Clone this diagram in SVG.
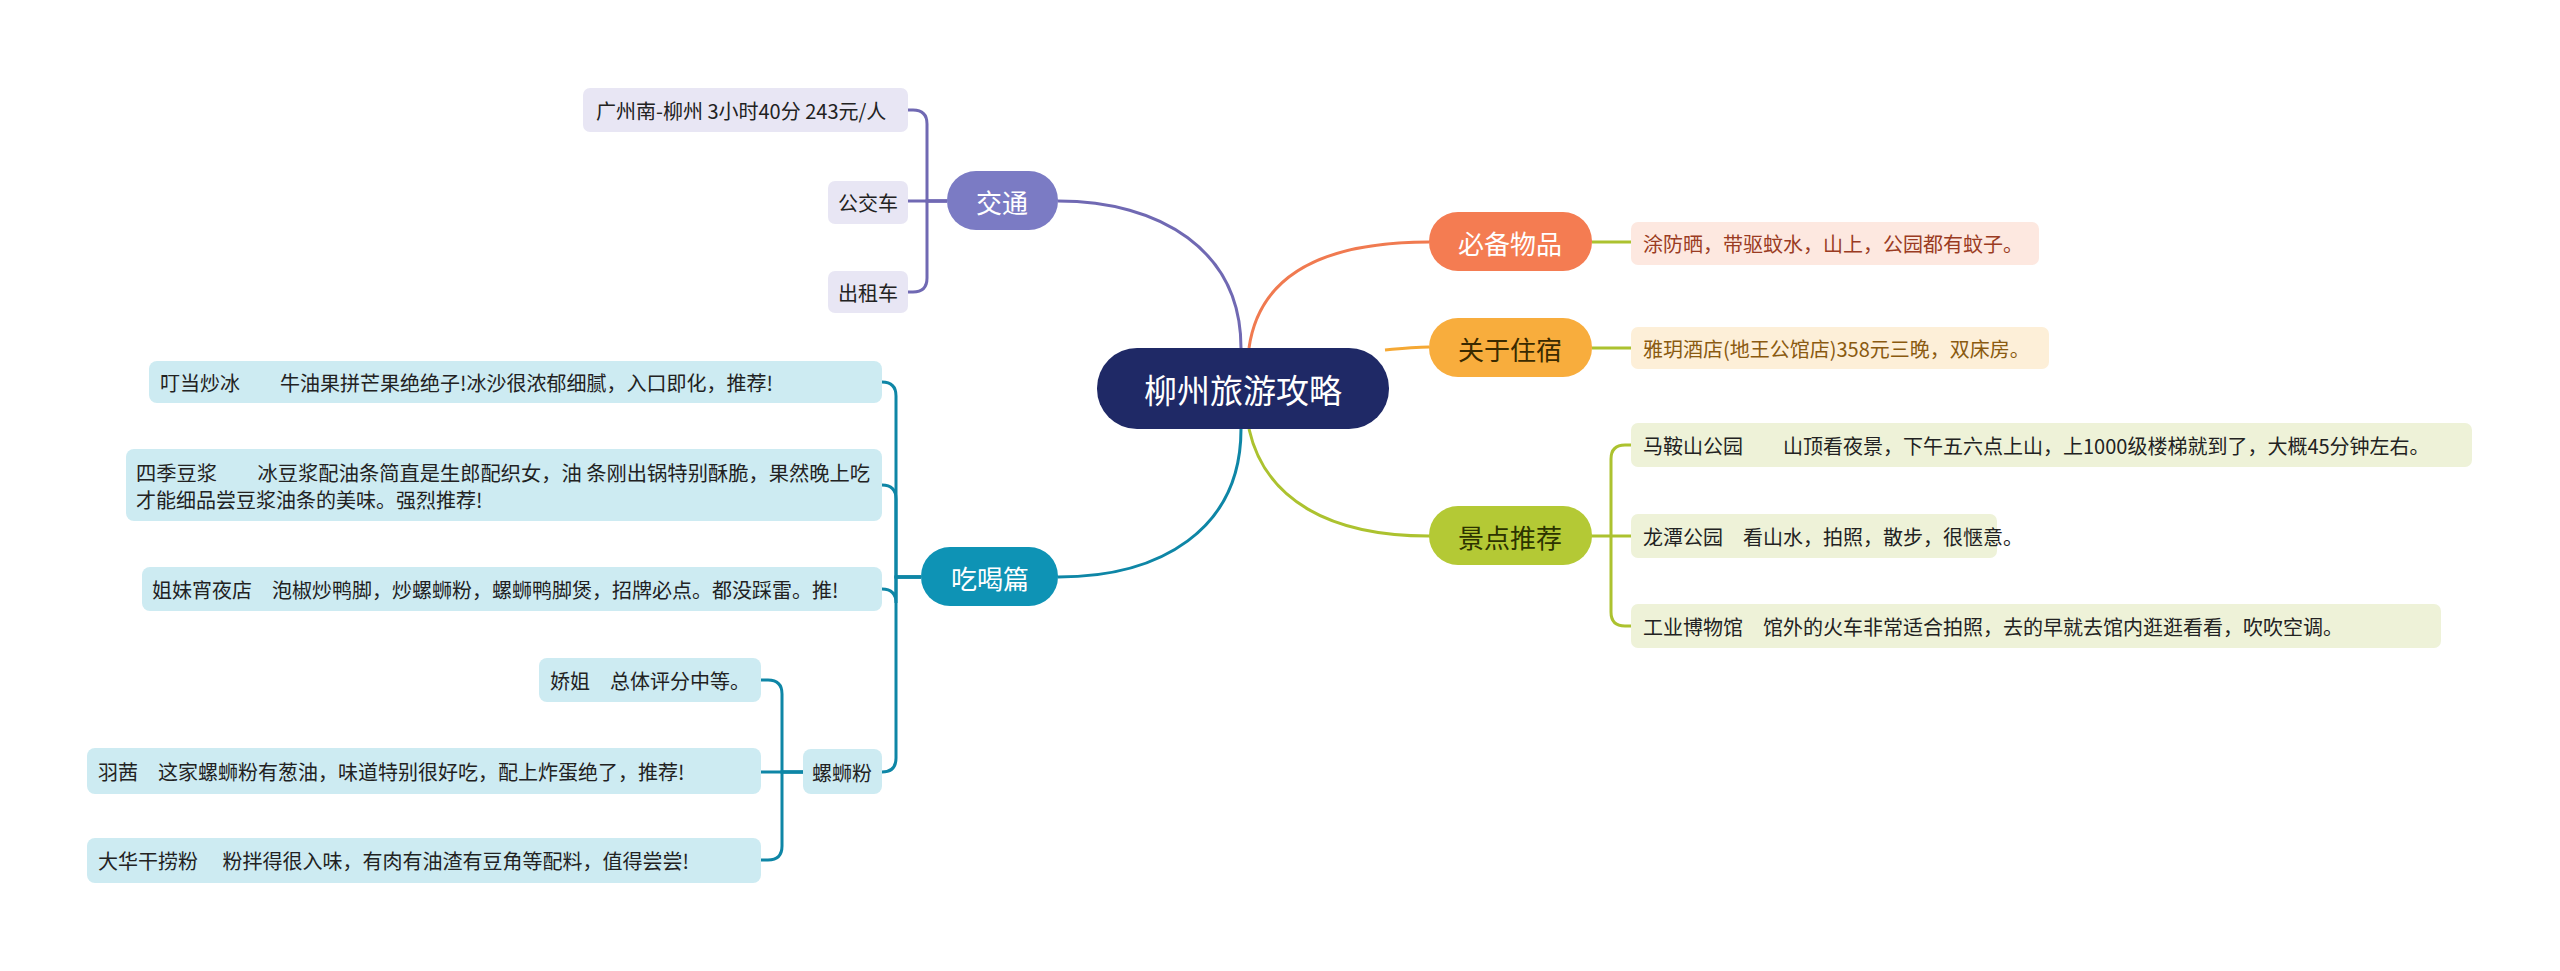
<svg xmlns="http://www.w3.org/2000/svg" width="2560" height="971" viewBox="0 0 2560 971">
<style>
text{font-family:"Noto Sans CJK SC","Liberation Sans",sans-serif;dominant-baseline:central}
.lf{font-size:20px;fill:#222}
.br{font-size:26px;fill:#fff;text-anchor:middle}
.c{fill:none;stroke-width:3}
</style>
<rect width="2560" height="971" fill="#fff"/>
<g id="connectors">
<path class="c" stroke="#7069b3" d="M1241 348 C1241 250 1160 201 1058 201"/>
<path class="c" stroke="#0e86a6" d="M1241 429 C1241 530 1160 577 1058 577"/>
<path class="c" stroke="#f07a50" d="M1249 348 C1260 270 1330 242 1429 242"/>
<path class="c" stroke="#f5a834" d="M1385 350 C1405 348 1415 347 1429 347"/>
<path class="c" stroke="#acc22f" d="M1249 429 C1265 500 1330 536 1429 536"/>
<g stroke="#7069b3" class="c" fill="none">
<path d="M947 201 H927 V124 Q927 110 913 110 H908"/>
<path d="M947 201 H908"/>
<path d="M947 201 H927 V278 Q927 292 913 292 H908"/>
</g>
<g stroke="#0e86a6" fill="none" stroke-width="3">
<path d="M921 577 H896 V396 Q896 382 882 382"/>
<path d="M921 577 H896 V499 Q896 485 882 485"/>
<path d="M921 577 H896 V603 Q896 589 882 589"/>
<path d="M921 577 H896 V758 Q896 772 882 772"/>
<path d="M803 772 H782 V694 Q782 680 768 680 H761"/>
<path d="M803 772 H761"/>
<path d="M803 772 H782 V846 Q782 860 768 860 H761"/>
</g>
<g stroke="#acc22f" fill="none" stroke-width="3">
<path d="M1429 536 H1611 "/>
<path d="M1611 536 V459 Q1611 445 1625 445 H1631"/>
<path d="M1611 536 H1631"/>
<path d="M1611 536 V612 Q1611 626 1625 626 H1631"/>
<path d="M1592 242 H1631"/>
<path d="M1592 348 H1631"/>
</g>
</g>
<g id="center"><rect x="1097" y="348" width="292" height="81" rx="40" fill="#1f2966"/><text x="1243" y="389" font-size="33" fill="#fff" text-anchor="middle">柳州旅游攻略</text></g>
<g id="jiaotong"><rect x="947" y="171" width="111" height="59" rx="29" fill="#7b7bc4"/><text class="br" x="1002" y="201">交通</text></g>
<g id="j1"><rect x="583" y="88" width="325" height="44" rx="7" fill="#e8e6f4"/><text class="lf" x="596" y="110">广州南-柳州 3小时40分 243元/人</text></g>
<g id="j2"><rect x="828" y="181" width="80" height="43" rx="7" fill="#e8e6f4"/><text class="lf" x="838" y="202">公交车</text></g>
<g id="j3"><rect x="828" y="271" width="80" height="42" rx="7" fill="#e8e6f4"/><text class="lf" x="838" y="292">出租车</text></g>
<g id="chihe"><rect x="921" y="547" width="137" height="59" rx="29" fill="#0e93b5"/><text class="br" x="990" y="577">吃喝篇</text></g>
<g id="c1"><rect x="149" y="361" width="733" height="42" rx="8" fill="#cdebf2"/><text class="lf" x="160" y="382" xml:space="preserve">叮当炒冰　　牛油果拼芒果绝绝子!冰沙很浓郁细腻，入口即化，推荐!</text></g>
<g id="c2"><rect x="126" y="449" width="756" height="72" rx="8" fill="#cdebf2"/><text class="lf" x="136" y="472" xml:space="preserve" textLength="734" lengthAdjust="spacingAndGlyphs">四季豆浆　　冰豆浆配油条简直是生郎配织女，油 条刚出锅特别酥脆，果然晚上吃</text><text class="lf" x="136" y="499">才能细品尝豆浆油条的美味。强烈推荐!</text></g>
<g id="c3"><rect x="142" y="567" width="740" height="44" rx="8" fill="#cdebf2"/><text class="lf" x="152" y="589" xml:space="preserve">姐妹宵夜店　泡椒炒鸭脚，炒螺蛳粉，螺蛳鸭脚煲，招牌必点。都没踩雷。推!</text></g>
<g id="c4"><rect x="803" y="749" width="79" height="45" rx="8" fill="#cdebf2"/><text class="lf" x="812" y="772">螺蛳粉</text></g>
<g id="l1"><rect x="539" y="658" width="222" height="44" rx="8" fill="#cdebf2"/><text class="lf" x="550" y="680" xml:space="preserve">娇姐　总体评分中等。</text></g>
<g id="l2"><rect x="87" y="748" width="674" height="46" rx="8" fill="#cdebf2"/><text class="lf" x="98" y="771" xml:space="preserve">羽茜　这家螺蛳粉有葱油，味道特别很好吃，配上炸蛋绝了，推荐!</text></g>
<g id="l3"><rect x="87" y="838" width="674" height="45" rx="8" fill="#cdebf2"/><text class="lf" x="98" y="860" xml:space="preserve">大华干捞粉　 粉拌得很入味，有肉有油渣有豆角等配料，值得尝尝!</text></g>
<g id="bibei"><rect x="1429" y="212" width="163" height="59" rx="29" fill="#f47c52"/><text class="br" x="1510" y="242">必备物品</text></g>
<g id="b1"><rect x="1631" y="222" width="408" height="43" rx="7" fill="#fde8e0"/><text class="lf" x="1643" y="243" style="fill:#9a3b22">涂防晒，带驱蚊水，山上，公园都有蚊子。</text></g>
<g id="zhusu"><rect x="1429" y="318" width="163" height="59" rx="29" fill="#f8ad3d"/><text class="br" x="1510" y="348" style="fill:#3a2a00">关于住宿</text></g>
<g id="z1"><rect x="1631" y="327" width="418" height="42" rx="7" fill="#fdefd8"/><text class="lf" x="1643" y="348" style="fill:#8a5a10">雅玥酒店(地王公馆店)358元三晚，双床房。</text></g>
<g id="jingdian"><rect x="1429" y="506" width="163" height="59" rx="29" fill="#b4c935"/><text class="br" x="1510" y="536" style="fill:#2c3300">景点推荐</text></g>
<g id="s1"><rect x="1631" y="423" width="841" height="44" rx="7" fill="#eef2d8"/><text class="lf" x="1643" y="445" xml:space="preserve">马鞍山公园　　山顶看夜景，下午五六点上山，上1000级楼梯就到了，大概45分钟左右。</text></g>
<g id="s2"><rect x="1631" y="514" width="366" height="44" rx="7" fill="#eef2d8"/><text class="lf" x="1643" y="536" xml:space="preserve">龙潭公园　看山水，拍照，散步，很惬意。</text></g>
<g id="s3"><rect x="1631" y="604" width="810" height="44" rx="7" fill="#eef2d8"/><text class="lf" x="1643" y="626" xml:space="preserve">工业博物馆　馆外的火车非常适合拍照，去的早就去馆内逛逛看看，吹吹空调。</text></g>
</svg>
